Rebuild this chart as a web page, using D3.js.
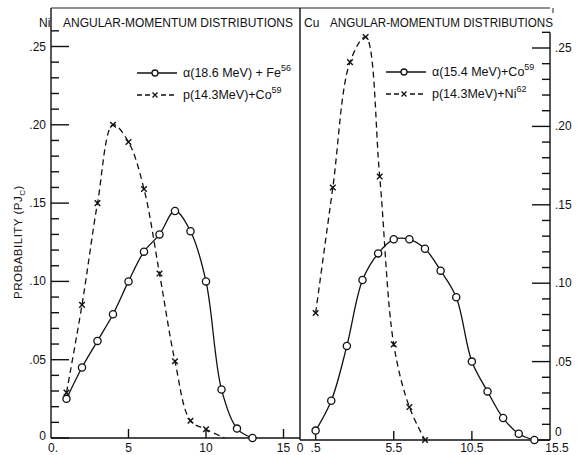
<!DOCTYPE html>
<html>
<head>
<meta charset="utf-8">
<script src="https://cdn.jsdelivr.net/npm/d3@7"></script>
<style>
  body { margin: 0; background: #fff; }
  text { font-family: "Liberation Sans", Arial, sans-serif; fill: #111; }
</style>
</head>
<body>
<div id="graph1"></div>
<script>
// data
var niAlphaJ = [1, 2, 3, 4, 5, 6, 7, 8, 9, 10, 11, 12, 13];
var niAlphaP = [0.025, 0.045, 0.062, 0.079, 0.100, 0.119, 0.130, 0.145, 0.132, 0.100, 0.031, 0.006, 0.000];
var niProtonJ = [1, 2, 3, 4, 5, 6, 7, 8, 9, 10];
var niProtonP = [0.029, 0.085, 0.150, 0.200, 0.189, 0.159, 0.105, 0.049, 0.011, 0.0056];
var niProtonTailJ = [11.2];
var niProtonTailP = [0.0];

var cuAlphaJ = [0.5, 1.5, 2.5, 3.5, 4.5, 5.5, 6.5, 7.5, 8.5, 9.5, 10.5, 11.5, 12.5, 13.5, 14.5];
var cuAlphaP = [0.006, 0.025, 0.060, 0.102, 0.119, 0.128, 0.128, 0.122, 0.108, 0.091, 0.050, 0.031, 0.014, 0.004, 0.000];
var cuProtonJ = [0.5, 1.6, 2.7, 3.7, 4.6, 5.5, 6.5, 7.5];
var cuProtonP = [0.081, 0.161, 0.241, 0.257, 0.168, 0.061, 0.021, 0.000];

var yTicks = [0, 0.05, 0.10, 0.15, 0.20, 0.25];
var yLabels = ["0", ".05", ".10", ".15", ".20", ".25"];
var niXTicks = [0, 5, 10, 15];
var niXLabels = ["0.", "5", "10", "15"];
var cuXTicks = [-0.5, 0.5, 5.5, 10.5, 15.5];
var cuXLabels = ["0", ".5", "5.5", "10.5", "15.5"];

var w = 577;
var h = 455;

var svg = d3.select("#graph1")
    .append("svg")
    .attr("width", w)
    .attr("height", h);

var xNi = d3.scaleLinear().domain([0, 16]).range([51, 299]);
var yNi = d3.scaleLinear().domain([0, 0.25]).range([438, 46.5]);
var xCu = d3.scaleLinear().domain([-0.5, 15.5]).range([300, 550]);
var yCu = d3.scaleLinear().domain([0, 0.25]).range([440, 48]);

var minor = d3.range(0, 0.261, 0.01);

// frame
svg.append("line").attr("x1", 51).attr("y1", 8).attr("x2", 550).attr("y2", 8)
    .attr("stroke", "#222").attr("stroke-width", 1);
svg.append("line").attr("x1", 51).attr("y1", 8).attr("x2", 51).attr("y2", yNi(0))
    .attr("stroke", "#111").attr("stroke-width", 1.4);
svg.append("line").attr("x1", 51).attr("y1", yNi(0)).attr("x2", 300).attr("y2", yNi(0))
    .attr("stroke", "#111").attr("stroke-width", 1.4);
svg.append("line").attr("x1", 300).attr("y1", 8).attr("x2", 300).attr("y2", yCu(0))
    .attr("stroke", "#111").attr("stroke-width", 1.4);
svg.append("line").attr("x1", 300).attr("y1", yCu(0)).attr("x2", 550).attr("y2", yCu(0))
    .attr("stroke", "#111").attr("stroke-width", 1.4);
svg.append("line").attr("x1", 550).attr("y1", yCu(0.26)).attr("x2", 550).attr("y2", yCu(0))
    .attr("stroke", "#111").attr("stroke-width", 1.4);
svg.append("line").attr("x1", 553).attr("y1", 8).attr("x2", 553).attr("y2", 13)
    .attr("stroke", "#222").attr("stroke-width", 1);

// left y ticks (inside)
svg.selectAll(".ltick")
    .data(minor)
    .enter()
    .append("line")
    .attr("x1", 51)
    .attr("x2", function (d, i) { return i % 5 == 0 ? 69 : 59; })
    .attr("y1", function (d) { return yNi(d); })
    .attr("y2", function (d) { return yNi(d); })
    .attr("stroke", "#111")
    .attr("stroke-width", 1.4);

svg.selectAll(".llab")
    .data(yTicks)
    .enter()
    .append("text")
    .attr("x", 46)
    .attr("y", function (d) { return yNi(d) + (d == 0 ? 2 : 4); })
    .attr("text-anchor", "end")
    .style("font-size", "12px")
    .text(function (d, i) { return yLabels[i]; });

// right y ticks (inside)
svg.selectAll(".rtick")
    .data(minor)
    .enter()
    .append("line")
    .attr("x1", 550)
    .attr("x2", function (d, i) { return i % 5 == 0 ? 532 : 542; })
    .attr("y1", function (d) { return yCu(d); })
    .attr("y2", function (d) { return yCu(d); })
    .attr("stroke", "#111")
    .attr("stroke-width", 1.4);

svg.selectAll(".rlab")
    .data(yTicks)
    .enter()
    .append("text")
    .attr("x", 555)
    .attr("y", function (d) { return yCu(d) + (d == 0 ? -4 : 4); })
    .style("font-size", "12px")
    .text(function (d, i) { return yLabels[i]; });

// x ticks and labels
svg.selectAll(".nxtick")
    .data(niXTicks.slice(1))
    .enter()
    .append("line")
    .attr("x1", function (d) { return xNi(d); })
    .attr("x2", function (d) { return xNi(d); })
    .attr("y1", yNi(0))
    .attr("y2", yNi(0) - 9)
    .attr("stroke", "#111").attr("stroke-width", 1.4);

svg.selectAll(".nxlab")
    .data(niXTicks)
    .enter()
    .append("text")
    .attr("x", function (d) { return xNi(d) + (d == 0 ? 2 : 0); })
    .attr("y", 452)
    .attr("text-anchor", "middle")
    .style("font-size", "12px")
    .text(function (d, i) { return niXLabels[i]; });

svg.selectAll(".cxtick")
    .data(cuXTicks.slice(1, 4))
    .enter()
    .append("line")
    .attr("x1", function (d) { return xCu(d); })
    .attr("x2", function (d) { return xCu(d); })
    .attr("y1", yCu(0))
    .attr("y2", yCu(0) - 9)
    .attr("stroke", "#111").attr("stroke-width", 1.4);

svg.selectAll(".cxlab")
    .data(cuXTicks)
    .enter()
    .append("text")
    .attr("x", function (d) { return xCu(d) + (d == 15.5 ? 7 : 0); })
    .attr("y", 452)
    .attr("text-anchor", "middle")
    .style("font-size", "12px")
    .text(function (d, i) { return cuXLabels[i]; });

// titles
svg.append("text").attr("x", 39).attr("y", 27).style("font-size", "12px").text("Ni");
svg.append("text").attr("x", 63).attr("y", 27).style("font-size", "12.5px")
    .attr("textLength", 230).attr("lengthAdjust", "spacingAndGlyphs")
    .text("ANGULAR-MOMENTUM DISTRIBUTIONS");
svg.append("text").attr("x", 304).attr("y", 27).style("font-size", "12px").text("Cu");
svg.append("text").attr("x", 330).attr("y", 27).style("font-size", "12.5px")
    .attr("textLength", 223).attr("lengthAdjust", "spacingAndGlyphs")
    .text("ANGULAR-MOMENTUM DISTRIBUTIONS");

// y label
var ylab = svg.append("text")
    .attr("transform", "translate(22,242) rotate(-90)")
    .attr("text-anchor", "middle")
    .style("font-size", "11.5px")
    .attr("letter-spacing", "0.5");
ylab.append("tspan").text("PROBABILITY  (PJ");
ylab.append("tspan").attr("dy", 3).style("font-size", "8px").text("C");
ylab.append("tspan").attr("dy", -3).text(")");

// curves
var curve = d3.curveCatmullRom.alpha(0.5);

function drawSeries(xs, ys, js, ps, tailJ, tailP, dashed, marker) {
    var pts = js.map(function (j, i) { return [j, ps[i]]; });
    var linePts = pts.concat(tailJ.map(function (j, i) { return [j, tailP[i]]; }));
    var line = d3.line()
        .x(function (d) { return xs(d[0]); })
        .y(function (d) { return ys(d[1]); })
        .curve(curve);
    svg.append("path")
        .attr("d", line(linePts))
        .attr("fill", "none")
        .attr("stroke", "#111")
        .attr("stroke-width", 1.3)
        .attr("stroke-dasharray", dashed ? "6,4" : null);
    if (marker == "o") {
        svg.selectAll(null)
            .data(pts)
            .enter()
            .append("circle")
            .attr("cx", function (d) { return xs(d[0]); })
            .attr("cy", function (d) { return ys(d[1]); })
            .attr("r", 3.6)
            .attr("fill", "#fff")
            .attr("stroke", "#111")
            .attr("stroke-width", 1.3);
    } else {
        svg.selectAll(null)
            .data(pts)
            .enter()
            .append("path")
            .attr("d", function (d) {
                var cx = xs(d[0]), cy = ys(d[1]), s = 2.8;
                return "M" + (cx - s) + "," + (cy - s) + "L" + (cx + s) + "," + (cy + s) +
                    "M" + (cx - s) + "," + (cy + s) + "L" + (cx + s) + "," + (cy - s);
            })
            .attr("stroke", "#111")
            .attr("stroke-width", 1.4);
    }
}

drawSeries(xNi, yNi, niAlphaJ, niAlphaP, [], [], false, "o");
drawSeries(xNi, yNi, niProtonJ, niProtonP, niProtonTailJ, niProtonTailP, true, "x");
drawSeries(xCu, yCu, cuAlphaJ, cuAlphaP, [], [], false, "o");
drawSeries(xCu, yCu, cuProtonJ, cuProtonP, [], [], true, "x");

// legends
function legend(x0, y0, marker, dashed, main, sup) {
    var g = svg.append("g").attr("transform", "translate(" + x0 + "," + y0 + ")");
    g.append("line").attr("x1", 0).attr("x2", 40).attr("y1", 0).attr("y2", 0)
        .attr("stroke", "#111").attr("stroke-width", 1.3)
        .attr("stroke-dasharray", dashed ? "5,3" : null);
    if (marker == "o") {
        g.append("circle").attr("cx", 18).attr("cy", 0).attr("r", 3)
            .attr("fill", "#fff").attr("stroke", "#111").attr("stroke-width", 1.3);
    } else {
        g.append("rect").attr("x", 14).attr("y", -4).attr("width", 8).attr("height", 8).attr("fill", "#fff");
        g.append("path").attr("d", "M15.5,-2.5L20.5,2.5M15.5,2.5L20.5,-2.5")
            .attr("stroke", "#111").attr("stroke-width", 1.3);
    }
    var t = g.append("text").attr("x", 46).attr("y", 4).style("font-size", "12.5px");
    t.append("tspan").text(main);
    t.append("tspan").attr("dy", -6).style("font-size", "9px").text(sup);
}

legend(137, 73, "o", false, "α(18.6 MeV) + Fe", "56");
legend(137, 95, "x", true, "p(14.3MeV)+Co", "59");
legend(386, 72, "o", false, "α(15.4 MeV)+Co", "59");
legend(386, 94, "x", true, "p(14.3MeV)+Ni", "62");
</script>
</body>
</html>
